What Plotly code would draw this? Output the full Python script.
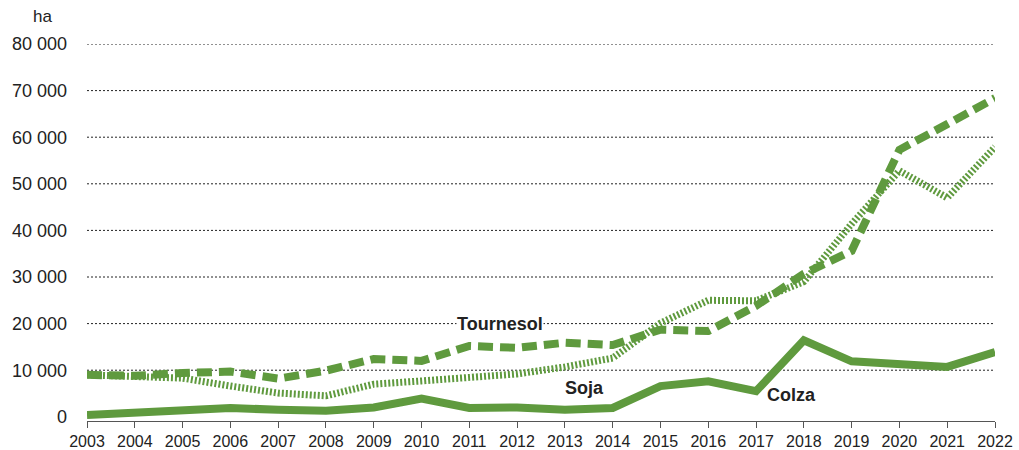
import plotly.graph_objects as go

# Données (ha)
YEARS = list(range(2003, 2023))
COLZA = [400, 1000, 1500, 1900, 1500, 1300, 2000, 3900, 1900, 2000,
         1500, 1900, 6600, 7600, 5500, 16400, 11900, 11400, 10700, 13900]
TOURNESOL = [9000, 8800, 9400, 9700, 8200, 9900, 12400, 12000, 15200, 14800,
             15900, 15400, 18700, 18400, 23800, 30700, 35600, 57300, 62800, 68400]
SOJA = [9000, 8600, 8300, 6600, 5100, 4500, 7000, 7700, 8300, 9200,
        10700, 12600, 20100, 25000, 24900, 29000, 41400, 52800, 47000, 57900]

Y_TICKS = [0, 10000, 20000, 30000, 40000, 50000, 60000, 70000, 80000]
Y_LABELS = ["0", "10 000", "20 000", "30 000", "40 000", "50 000", "60 000", "70 000", "80 000"]
X_LABELS = [str(y) for y in YEARS]

GREEN = "#5f9a3e"
TEXT = "#222222"
FONT = "Liberation Sans, Arial, sans-serif"

fig = go.Figure()

# grille pointillée (sauf 0)
for v in Y_TICKS[1:]:
    fig.add_hline(y=v, line=dict(color="#222222", width=1, dash="2px,2px"), layer="below")

fig.add_trace(go.Scatter(x=YEARS, y=SOJA, mode="lines", name="Soja",
                         line=dict(color=GREEN, width=7, dash="2px,2px")))
fig.add_trace(go.Scatter(x=YEARS, y=TOURNESOL, mode="lines", name="Tournesol",
                         line=dict(color=GREEN, width=8, dash="15px,7px")))
fig.add_trace(go.Scatter(x=YEARS, y=COLZA, mode="lines", name="Colza",
                         line=dict(color=GREEN, width=8)))

lbl_font = dict(family=FONT, size=18, color=TEXT)
fig.add_annotation(x=2011.65, y=20000, text="<b>Tournesol</b>", showarrow=False,
                   font=lbl_font, bgcolor="white", borderpad=0)
fig.add_annotation(x=2013.4, y=6200, text="<b>Soja</b>", showarrow=False, font=lbl_font)
fig.add_annotation(x=2017.75, y=4700, text="<b>Colza</b>", showarrow=False, font=lbl_font)

# unité au-dessus de l'axe y
fig.add_annotation(x=(42 - 87) / 908, y=1 + (44 - 17) / 377, xref="x domain", yref="y domain",
                   text="ha", showarrow=False, xanchor="center", yanchor="middle",
                   font=dict(family=FONT, size=17, color=TEXT))

fig.update_layout(
    width=1019, height=450,
    margin=dict(l=87, r=24, t=44, b=29, autoexpand=False),
    paper_bgcolor="white", plot_bgcolor="white",
    showlegend=False,
    font=dict(family=FONT, color=TEXT),
)

fig.update_xaxes(
    range=[2003, 2022], automargin=False,
    tickvals=YEARS, ticktext=X_LABELS,
    showgrid=False, zeroline=False,
    showline=True, linecolor="#555555", linewidth=1,
    ticks="outside", ticklen=6, tickcolor="#555555",
    tickfont=dict(family="Liberation Sans Narrow, Arial Narrow, sans-serif", size=16, color=TEXT),
)
fig.update_yaxes(
    range=[-900, 80000], automargin=False,
    tickvals=Y_TICKS, ticktext=Y_LABELS,
    showgrid=False, zeroline=False, showline=False,
    ticks="", ticklabelstandoff=19,
    tickfont=dict(size=18, color=TEXT),
)

fig.write_html("out.html", config={"displayModeBar": False},
               post_script="document.body.style.margin='0';")
